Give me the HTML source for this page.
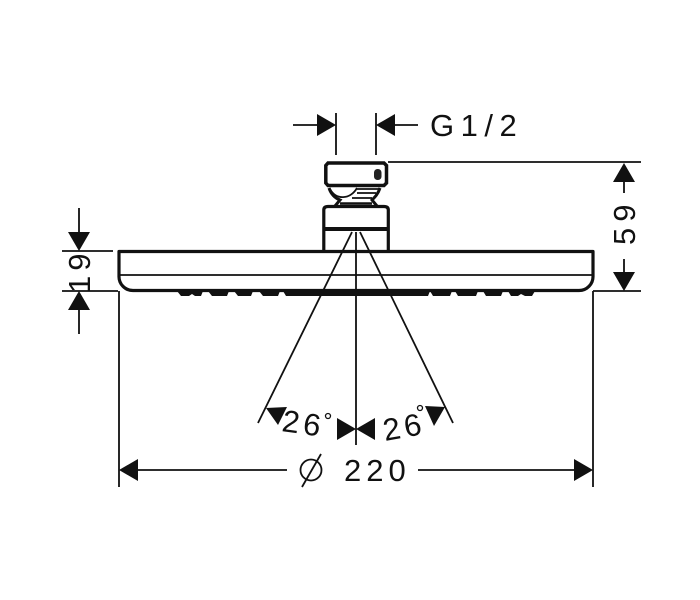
<!DOCTYPE html>
<html><head><meta charset="utf-8">
<style>html,body{margin:0;padding:0;background:#fff}svg{display:block}text{font-family:"Liberation Sans",sans-serif;font-size:31px;fill:#111}</style>
</head><body>
<svg width="700" height="600" viewBox="0 0 700 600" xmlns="http://www.w3.org/2000/svg">
<g fill="none" stroke="#111" stroke-width="1.800">
<!-- top dim -->
<path d="M293 125H318M336 113V155M376 113V155M394 125H418"/>
<!-- left dim -->
<path d="M79 208V233M62 251H113M62 291H118M79 309V334"/>
<!-- right dim -->
<path d="M388 162H641M593 291H641M624 181V193M624 259V273"/>
<!-- bottom dim -->
<path d="M119 291V487M593 291V487M136 470H287M418 470H576"/>
<!-- angle lines -->
<path d="M352 232L258 423M360 232L453 423M356 232V445"/>
<!-- body inner -->
<path d="M119 275H592"/>
</g>
<!-- arrowheads -->
<g fill="#111">
<path d="M317 114L336 125L317 136ZM395 114L376 125L395 136Z"/>
<path d="M68 232H90L79 251ZM68 310H90L79 291Z"/>
<path d="M613 182H635L624 163ZM613 272H635L624 291Z"/>
<path d="M119 470L138 459V481ZM593 470L574 459V481Z"/>
<path d="M266 408L287 407L278 425ZM425 406L445 407L434 426Z"/>
<path d="M337 418V440L356 429ZM375 418V440L356 429Z"/>
</g>
<!-- head -->
<g fill="none" stroke="#111">
<path d="M328 163H384L386.500 165.500V183L384 185.500H328L325.800 183V165.500Z" stroke-width="3.500"/>
<path d="M329 188C331 194 335 198 340 200L335 206M380 188C378 194 375 197 372 200L377 206" stroke-width="3"/>
<path d="M330 189C336 200 350 200 357 188M357 189H380M357 193H376M352 198H372" stroke-width="1.800"/>
<path d="M340 203.500H372" stroke-width="2.500"/>
<path d="M323.800 250V210Q323.800 206.500 328 206.500H384Q388.300 206.500 388.300 210V250" stroke-width="3.200"/>
<path d="M323 229H389" stroke-width="4"/>
<!-- body -->
<path d="M119 251.500H593V276A14 14 0 0 1 579 290.500H133A14 14 0 0 1 119 276Z" stroke-width="3.200" stroke-linejoin="round"/>
</g>
<rect x="374" y="169" width="7.500" height="11" rx="3.500" fill="#222"/>
<!-- nozzles -->
<g fill="#111">
<path d="M177 291H203L201 296H195L192 294L189 296H181ZM208 291H229L227 296H212ZM234 291H253L251 296H238ZM259 291H280L278 296H263ZM283 291H430L428 296H286ZM430 291H452L450 296H433ZM455 291H478L476 296H458ZM483 291H503L501 296H486ZM508 291H535L532 296H525L521 294L518 296H511Z"/>
</g>
<!-- text -->
<text x="430" y="136" letter-spacing="6.500">G1/2</text>
<text x="344" y="481" letter-spacing="5">220</text>
<circle cx="311" cy="470" r="10.500" fill="none" stroke="#111" stroke-width="1.800"/>
<path d="M302 487L321 454" stroke="#111" stroke-width="1.800"/>
<text transform="translate(90,293) rotate(-90)" letter-spacing="5">19</text>
<text transform="translate(635,245) rotate(-90)" letter-spacing="6">59</text>
<text transform="translate(281,431) rotate(8)" letter-spacing="4">26</text>
<circle cx="328" cy="416" r="2.500" fill="none" stroke="#111" stroke-width="1.300"/>
<text transform="translate(385,441) rotate(-10)" letter-spacing="4">26</text>
<circle cx="420" cy="408" r="2.500" fill="none" stroke="#111" stroke-width="1.300"/>
</svg>
</body></html>
